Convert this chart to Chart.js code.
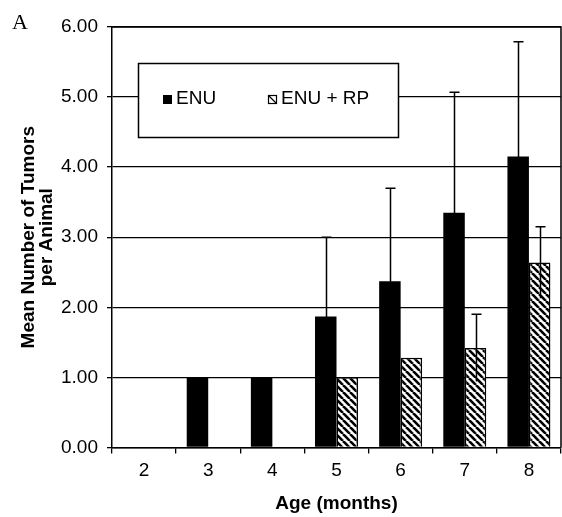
<!DOCTYPE html>
<html>
<head>
<meta charset="utf-8">
<script src="https://cdn.jsdelivr.net/npm/chart.js@4.4.0/dist/chart.umd.min.js"></script>
<style>
  html, body { margin: 0; padding: 0; background: #fff; }
  #wrap { position: relative; width: 562px; height: 517px; }
</style>
</head>
<body>
<div id="wrap"><canvas id="tumorChart"></canvas></div>
<script>
// Age groups (months) and mean tumors per animal
const ages = ['2', '3', '4', '5', '6', '7', '8'];
const enuMean = [null, 1.0, 1.0, 1.87, 2.37, 3.35, 4.15];
const enuErr = [null, 0, 0, 1.13, 1.33, 1.72, 1.64];
const rpMean = [null, null, null, 1.0, 1.28, 1.42, 2.64];
const rpErr = [null, null, null, 0, 0, 0.48, 0.51];
const seriesNames = ['ENU', 'ENU + RP'];

// diagonal hatch fill for the RP bars
function makeHatch() {
  const s = 7;
  const c = document.createElement('canvas');
  c.width = s; c.height = s;
  const g = c.getContext('2d');
  g.fillStyle = '#fff';
  g.fillRect(0, 0, s, s);
  g.strokeStyle = '#000';
  g.lineWidth = 2.6;
  for (let k = -1; k <= 1; k++) {
    g.beginPath();
    g.moveTo(k * s, 0);
    g.lineTo(k * s + s, s);
    g.stroke();
  }
  return g.createPattern(c, 'repeat');
}
const hatch = makeHatch();

const errorBars = {
  id: 'errorBars',
  afterDatasetsDraw(chart) {
    const ctx = chart.ctx;
    const y = chart.scales.y;
    const errs = [enuErr, rpErr];
    ctx.save();
    ctx.strokeStyle = '#000';
    ctx.lineWidth = 1.5;
    chart.data.datasets.forEach((ds, i) => {
      const meta = chart.getDatasetMeta(i);
      meta.data.forEach((bar, j) => {
        const v = ds.data[j];
        const e = errs[i][j];
        if (v == null || !e) return;
        const x = Math.round(bar.x) + 0.5;
        const yTop = y.getPixelForValue(v + e);
        const yBot = y.getPixelForValue(v - e);
        ctx.beginPath();
        ctx.moveTo(x, yBot);
        ctx.lineTo(x, yTop);
        ctx.moveTo(x - 5, yTop);
        ctx.lineTo(x + 5, yTop);
        ctx.stroke();
      });
    });
    ctx.restore();
  }
};

const boxLegend = {
  id: 'boxLegend',
  afterDraw(chart) {
    const ctx = chart.ctx;
    const a = chart.chartArea;
    ctx.save();
    // frame right edge and top
    ctx.strokeStyle = '#000';
    ctx.lineWidth = 1.5;
    ctx.beginPath();
    ctx.moveTo(a.left, a.top);
    ctx.lineTo(a.right, a.top);
    ctx.lineTo(a.right, a.bottom);
    ctx.stroke();

    // legend box
    const bx = 138, by = 63, bw = 260, bh = 74;
    ctx.fillStyle = '#fff';
    ctx.fillRect(bx, by, bw, bh);
    ctx.lineWidth = 1.5;
    ctx.strokeRect(bx + 0.5, by + 0.5, bw, bh);

    ctx.font = '19px "Liberation Sans", Arial, sans-serif';
    ctx.textBaseline = 'alphabetic';
    ctx.fillStyle = '#000';
    // ENU marker
    ctx.fillRect(163, 95, 9, 9);
    ctx.fillText(seriesNames[0], 176, 104);
    // ENU + RP marker
    ctx.lineWidth = 1.2;
    ctx.strokeRect(268.5, 95.5, 8, 8);
    ctx.beginPath();
    ctx.moveTo(269, 96);
    ctx.lineTo(276, 103);
    ctx.stroke();
    ctx.fillText(seriesNames[1], 281, 104);

    // panel letter
    ctx.font = '22px "Liberation Serif", "Times New Roman", serif';
    ctx.fillText('A', 12, 29);
    ctx.restore();
  }
};

const ctxTumor = document.getElementById('tumorChart').getContext('2d');
const tumorChart = new Chart(ctxTumor, {
  type: 'bar',
  data: {
    labels: ages,
    datasets: [{
      label: seriesNames[0],
      data: enuMean,
      backgroundColor: '#000',
      borderColor: '#000',
      borderWidth: 0
    }, {
      label: seriesNames[1],
      data: rpMean,
      backgroundColor: hatch,
      borderColor: '#000',
      borderWidth: 1.5
    }]
  },
  options: {
    responsive: true,
    maintainAspectRatio: false,
    animation: false,
    layout: { padding: { top: 27, right: 1, bottom: 2, left: 0 } },
    datasets: { bar: { categoryPercentage: 0.67, barPercentage: 1.0 } },
    plugins: {
      legend: { display: false },
      tooltip: { enabled: false }
    },
    scales: {
      x: {
        grid: {
          offset: true,
          drawOnChartArea: false,
          drawTicks: true,
          tickLength: 6,
          color: '#000',
          lineWidth: 1.3
        },
        border: { color: '#000', width: 1.5 },
        ticks: {
          color: '#000',
          padding: 6,
          font: { family: '"Liberation Sans", Arial, sans-serif', size: 19 }
        },
        title: {
          display: true,
          text: 'Age (months)',
          color: '#000',
          padding: { top: 4, bottom: 0 },
          font: { family: '"Liberation Sans", Arial, sans-serif', size: 19, weight: 'bold' }
        }
      },
      y: {
        min: 0,
        max: 6,
        afterFit(scale) { scale.width = 112; },
        grid: {
          color: '#000',
          lineWidth: 1.3,
          tickLength: 5
        },
        border: { color: '#000', width: 1.5 },
        ticks: {
          stepSize: 1,
          color: '#000',
          padding: 9,
          font: { family: '"Liberation Sans", Arial, sans-serif', size: 19 },
          callback: (v) => v.toFixed(2)
        },
        title: {
          display: true,
          text: ['Mean Number of Tumors', 'per Animal'],
          color: '#000',
          padding: { top: 20, bottom: 0 },
          font: { family: '"Liberation Sans", Arial, sans-serif', size: 19, weight: 'bold', lineHeight: 0.95 }
        }
      }
    }
  },
  plugins: [errorBars, boxLegend]
});
</script>
</body>
</html>
